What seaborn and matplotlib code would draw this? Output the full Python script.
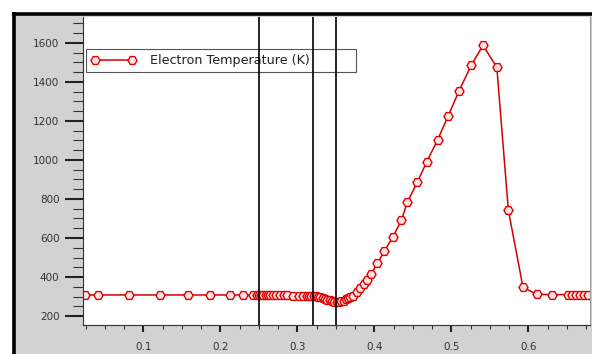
import numpy as np
import pandas as pd
import matplotlib
matplotlib.use('Agg')
import matplotlib.pyplot as plt
from matplotlib.lines import Line2D
from matplotlib.patches import Rectangle
from matplotlib.ticker import MultipleLocator
import seaborn as sns

#%% Dati

posizione = [0.024, 0.041, 0.082, 0.122, 0.158, 0.187, 0.213, 0.230, 0.242,
             0.247, 0.250, 0.253, 0.256, 0.259, 0.262, 0.265, 0.268, 0.272,
             0.277, 0.283, 0.287, 0.294, 0.302, 0.308, 0.312, 0.315, 0.318,
             0.321, 0.324, 0.327, 0.330, 0.333, 0.336, 0.339, 0.342, 0.345,
             0.348, 0.351, 0.354, 0.357, 0.360, 0.363, 0.366, 0.369, 0.372,
             0.378, 0.382, 0.386, 0.391, 0.396, 0.404, 0.413, 0.424, 0.435,
             0.443, 0.456, 0.468, 0.482, 0.496, 0.510, 0.526, 0.541, 0.559,
             0.574, 0.593, 0.611, 0.631, 0.651, 0.657, 0.662, 0.667, 0.672,
             0.678]

temperatura = [308, 308, 308, 308, 308, 308, 308, 308, 308,
               308, 308, 308, 308, 308, 308, 307, 307, 307,
               307, 306, 306, 305, 304, 303, 303, 304, 305,
               305, 303, 300, 296, 292, 288, 284, 280, 277,
               274, 273, 273, 275, 279, 285, 291, 297, 303,
               325, 345, 362, 385, 418, 470, 533, 605, 690,
               785, 888, 991, 1102, 1227, 1355, 1487, 1588, 1475,
               742, 347, 311, 310, 310, 310, 310, 310, 310,
               310]

linee_verticali = [0.25, 0.32, 0.35]
etichetta = 'Electron Temperature (K)'

df = pd.DataFrame({'x': posizione, 'T': temperatura})

#%% Figura

sns.set_style('white')
plt.rcParams['font.family'] = ['DejaVu Sans']

W, H = 592, 354
fig = plt.figure(figsize=(W/100, H/100), dpi=100)
fig.patch.set_facecolor('white')

# sfondo grigio + cornice nera stile Tecplot
fig.patches.append(Rectangle((15/W, 0), 1 - 15/W, 1 - 15/H, transform=fig.transFigure,
                             facecolor='#d2d2d2', edgecolor='none', zorder=-2))
fig.lines.append(Line2D([12/W, 1], [1 - 13.5/H, 1 - 13.5/H], transform=fig.transFigure,
                        color='black', lw=2.6, zorder=-1, solid_capstyle='butt'))
fig.lines.append(Line2D([13.5/W, 13.5/W], [0, 1 - 12/H], transform=fig.transFigure,
                        color='black', lw=2.6, zorder=-1, solid_capstyle='butt'))

ax = fig.add_axes([83/W, 1 - 325/H, 507/W, 308/H])
ax.set_zorder(2)
ax.set_facecolor('white')

sns.lineplot(data=df, x='x', y='T', ax=ax, color='#d40000', lw=1.1,
             marker='H', markersize=6.5, markeredgewidth=1.0,
             markeredgecolor='#e00000', markerfacecolor='#fde4e4',
             label=etichetta)

# le linee verticali passano sopra la legenda
for xv in linee_verticali:
    ax.axvline(xv, color='black', lw=1.2, zorder=7)

ax.set_xlim(0.0217, 0.680)
ax.set_ylim(154, 1733)

ax.xaxis.set_major_locator(MultipleLocator(0.1))
ax.xaxis.set_minor_locator(MultipleLocator(0.025))
ax.yaxis.set_major_locator(MultipleLocator(200))
ax.yaxis.set_minor_locator(MultipleLocator(50))

ax.tick_params(axis='y', which='major', direction='out', length=13, width=1.5,
               color='#222222', labelsize=7.5, labelcolor='#333333', pad=4, left=True)
ax.tick_params(axis='y', which='minor', direction='out', length=7, width=0.8,
               color='#333333', left=True)
ax.tick_params(axis='x', which='major', direction='out', length=5, width=1.5,
               color='#222222', labelsize=7.5, labelcolor='#333333', pad=7, bottom=True)
ax.tick_params(axis='x', which='minor', direction='out', length=3, width=0.8,
               color='#333333', bottom=True)

ax.set_xlabel('')
ax.set_ylabel('')

ax.spines['top'].set_visible(False)
ax.spines['right'].set_color('#999999')
ax.spines['right'].set_linewidth(0.8)
ax.spines['left'].set_color('#333333')
ax.spines['bottom'].set_color('#333333')

# legenda a larghezza fissa come in Tecplot
leg = ax.legend(loc='upper left', bbox_to_anchor=(0.006, 0.0, 0.5325, 0.896),
                mode='expand', borderaxespad=0,
                fancybox=False, framealpha=1, edgecolor='#555555', fontsize=9.2,
                numpoints=2, handlelength=3.5, handletextpad=1.1, borderpad=0.4)
leg.get_frame().set_linewidth(0.8)
leg.set_zorder(4)
for t in leg.get_texts():
    t.set_color('#222222')

fig.savefig('out.png', dpi=100)
